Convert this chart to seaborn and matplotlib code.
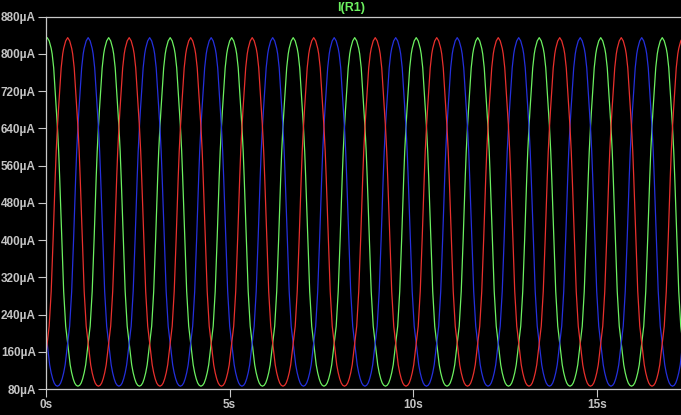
import numpy as np
import pandas as pd
import matplotlib.pyplot as plt
import seaborn as sns

# one cycle of I(R1): phase after a peak (fraction of period) -> current (uA)
cycle_phase = [0, .0325, .065, .081, .106, .130, .150, .168, .187, .203, .220, .236,
               .252, .268, .285, .301, .317, .333, .350, .374, .398, .423, .447, .472, .5]
cycle_ua = [835, 828, 812, 800, 770, 720, 680, 640, 590, 535, 470, 405,
            345, 290, 250, 215, 197, 180, 160, 132, 115, 102, 93, 88, 86]

period_s = 1.673
runs = ["step1", "step2", "step3"]
first_peak_s = [0.04, 0.598, 1.155]
run_colors = {"step1": "#6cf060", "step2": "#e8302c", "step3": "#2430dc"}

t_end = 17.28
yticks = [80, 160, 240, 320, 400, 480, 560, 640, 720, 800, 880]
xticks = [0, 5, 10, 15]

# mirror the measured half cycle into a full cycle, then lay it at every peak
ph = np.array(cycle_phase)
ua = np.array(cycle_ua)
full_ph = np.concatenate([-ph[::-1], ph[1:-1]])
full_ua = np.concatenate([ua[::-1], ua[1:-1]])

rows = []
for run, p0 in zip(runs, first_peak_s):
    for k in range(-1, 12):
        peak = p0 + k * period_s
        for f, v in zip(full_ph, full_ua):
            rows.append((run, peak + f * period_s, v))
df = pd.DataFrame(rows, columns=["run", "time", "current"])

plt.rcParams["font.family"] = ["Liberation Sans", "DejaVu Sans"]

fig = plt.figure(figsize=(6.81, 4.15), dpi=100, facecolor="black")
ax = fig.add_axes([45.7 / 681, 1 - 389 / 415, (681 - 45.7) / 681, (389 - 16.7) / 415])
ax.set_facecolor("black")

sns.lineplot(data=df, x="time", y="current", hue="run", palette=run_colors,
             hue_order=["step1", "step3", "step2"], estimator=None, sort=False,
             linewidth=0.9, legend=False, ax=ax)

ax.set_xlim(0, t_end)
ax.set_ylim(80, 880)
ax.set_xticks(xticks)
ax.set_xticklabels([f"{t}s" for t in xticks])
ax.set_yticks(yticks)
ax.set_yticklabels([f"{v}µA" for v in yticks])
ax.set_xlabel("")
ax.set_ylabel("")

grey = "#c8c8c8"
for side in ["top", "left", "bottom"]:
    ax.spines[side].set_color(grey)
    ax.spines[side].set_linewidth(0.9)
ax.spines["right"].set_visible(False)
ax.tick_params(axis="both", direction="out", length=5.8, width=0.8, color=grey,
               labelcolor="#c4c4c4", labelsize=8.5)
ax.tick_params(axis="y", pad=1.2)
ax.tick_params(axis="x", pad=1.5)
for lab in ax.get_xticklabels() + ax.get_yticklabels():
    lab.set_fontweight("bold")

fig.text(351 / 681, 1 - 8 / 415, "I(R1)", color="#6cf060", fontsize=9,
         fontweight="bold", ha="center", va="center")

fig.savefig("out.png", dpi=100, facecolor="black")
